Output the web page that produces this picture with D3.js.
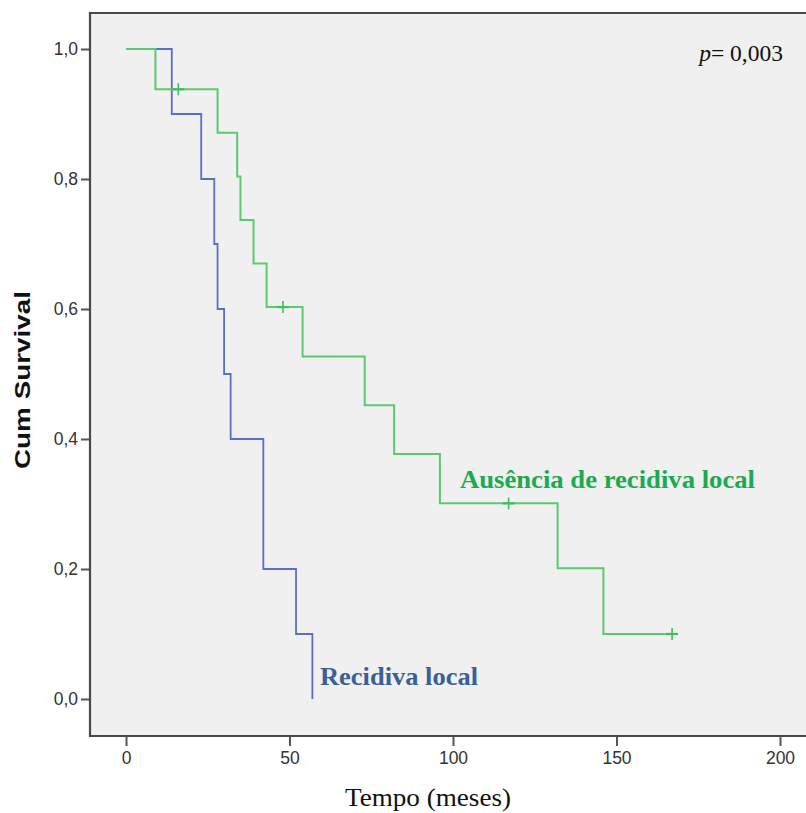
<!DOCTYPE html>
<html>
<head>
<meta charset="utf-8">
<script src="https://cdn.jsdelivr.net/npm/d3@7"></script>
<style>
  body { margin: 0; background: #ffffff; }
  svg { display: block; }
</style>
</head>
<body>
<svg id="km_svg" width="806" height="813"></svg>
<script>
// Recidiva local (blue) - step points
const recTimes = [0, 14, 23, 27, 28, 30, 32, 42, 52, 57];
const recSurv = [1.0, 0.9, 0.8, 0.7, 0.6, 0.5, 0.4, 0.2, 0.1, 0.0];

// Ausencia de recidiva local (green) - step points
const ausTimes = [0, 9, 28, 34, 35, 39, 43, 54, 73, 82, 96, 132, 146, 167];
const ausSurv = [1.0, 0.938, 0.871, 0.804, 0.737, 0.670, 0.603, 0.527, 0.452, 0.377, 0.301, 0.201, 0.100, 0.100];

// censored marks (green)
const ausCensTimes = [16, 48, 117, 167];
const ausCensSurv = [0.938, 0.603, 0.301, 0.100];

const xTicks = [0, 50, 100, 150, 200];
const yTicks = [0, 0.2, 0.4, 0.6, 0.8, 1.0];

const svg = d3.select("#km_svg");

const frame = { left: 90, top: 13, right: 806, bottom: 736 };

var x = d3.scaleLinear().domain([0, 200]).range([126, 780]);
var y = d3.scaleLinear().domain([0, 1]).range([699, 49]);

// plot background
svg.append("rect")
    .attr("x", frame.left)
    .attr("y", frame.top)
    .attr("width", frame.right - frame.left)
    .attr("height", frame.bottom - frame.top)
    .attr("fill", "#f0f0f0");

const commaFmt = d => d3.format(".1f")(d).replace(".", ",");

// y axis
const yAxis = svg.append("g")
    .attr("transform", "translate(" + frame.left + ",0)")
    .call(d3.axisLeft(y).tickValues(yTicks).tickFormat(commaFmt).tickSize(9).tickSizeOuter(0));
yAxis.select(".domain").remove();
yAxis.selectAll(".tick line").attr("stroke", "#555").attr("stroke-width", 2);
yAxis.selectAll(".tick text")
    .attr("x", -12)
    .style("font-family", "'Liberation Sans', Arial, sans-serif")
    .style("font-size", "17.5px")
    .attr("fill", "#333");

// x axis
const xAxis = svg.append("g")
    .attr("transform", "translate(0," + frame.bottom + ")")
    .call(d3.axisBottom(x).tickValues(xTicks).tickFormat(d3.format("d")).tickSize(10).tickSizeOuter(0));
xAxis.select(".domain").remove();
xAxis.selectAll(".tick line").attr("stroke", "#555").attr("stroke-width", 2);
xAxis.selectAll(".tick text")
    .attr("y", 16)
    .style("font-family", "'Liberation Sans', Arial, sans-serif")
    .style("font-size", "17.5px")
    .attr("fill", "#333");

// frame lines (top, left, bottom)
svg.append("path")
    .attr("d", "M" + frame.right + "," + frame.top + "H" + frame.left + "V" + frame.bottom + "H" + frame.right)
    .attr("fill", "none")
    .attr("stroke", "#4a4a4a")
    .attr("stroke-width", 2.2);

const stepLine = d3.line()
    .x(d => x(d[0]))
    .y(d => y(d[1]))
    .curve(d3.curveStepAfter);

// blue first, green on top
svg.append("path")
    .datum(d3.zip(recTimes, recSurv))
    .attr("fill", "none")
    .attr("stroke", "#5b6fc2")
    .attr("stroke-width", 1.8)
    .attr("d", stepLine);

svg.append("path")
    .datum(d3.zip(ausTimes, ausSurv))
    .attr("fill", "none")
    .attr("stroke", "#5cc96f")
    .attr("stroke-width", 2)
    .attr("d", stepLine);

// censor marks
const cens = svg.append("g").selectAll("g")
    .data(d3.zip(ausCensTimes, ausCensSurv))
    .enter()
    .append("g")
    .attr("transform", d => "translate(" + x(d[0]) + "," + y(d[1]) + ")");
cens.append("line")
    .attr("x1", 0).attr("x2", 0).attr("y1", -6).attr("y2", 6)
    .attr("stroke", "#3fbf5a").attr("stroke-width", 1.6);
cens.append("line")
    .attr("x1", -6).attr("x2", 6).attr("y1", 0).attr("y2", 0)
    .attr("stroke", "#3fbf5a").attr("stroke-width", 2.2);

// group labels
svg.append("text")
    .attr("x", 320)
    .attr("y", 685)
    .attr("textLength", 158)
    .attr("lengthAdjust", "spacingAndGlyphs")
    .style("font-family", "'Liberation Serif', 'Times New Roman', serif")
    .style("font-weight", "bold")
    .style("font-size", "26px")
    .attr("fill", "#3b5f97")
    .text("Recidiva local");

svg.append("text")
    .attr("x", 460)
    .attr("y", 488)
    .attr("textLength", 295)
    .attr("lengthAdjust", "spacingAndGlyphs")
    .style("font-family", "'Liberation Serif', 'Times New Roman', serif")
    .style("font-weight", "bold")
    .style("font-size", "26px")
    .attr("fill", "#1aaa50")
    .text("Ausência de recidiva local");

// p value
const pText = svg.append("text")
    .attr("x", 783)
    .attr("y", 61)
    .attr("text-anchor", "end")
    .style("font-family", "'Liberation Serif', 'Times New Roman', serif")
    .style("font-size", "23.5px")
    .attr("fill", "#111");
pText.append("tspan").style("font-style", "italic").text("p");
pText.append("tspan").text("= 0,003");

// axis titles
svg.append("text")
    .attr("x", 428)
    .attr("y", 806)
    .attr("text-anchor", "middle")
    .attr("textLength", 166)
    .attr("lengthAdjust", "spacingAndGlyphs")
    .style("font-family", "'Liberation Serif', 'Times New Roman', serif")
    .style("font-size", "26px")
    .attr("fill", "#111")
    .text("Tempo (meses)");

svg.append("text")
    .attr("transform", "translate(30,380) rotate(-90)")
    .attr("text-anchor", "middle")
    .attr("textLength", 178)
    .attr("lengthAdjust", "spacingAndGlyphs")
    .style("font-family", "'Liberation Sans', Arial, sans-serif")
    .style("font-weight", "bold")
    .style("font-size", "22px")
    .attr("fill", "#111")
    .text("Cum Survival");
</script>
</body>
</html>
